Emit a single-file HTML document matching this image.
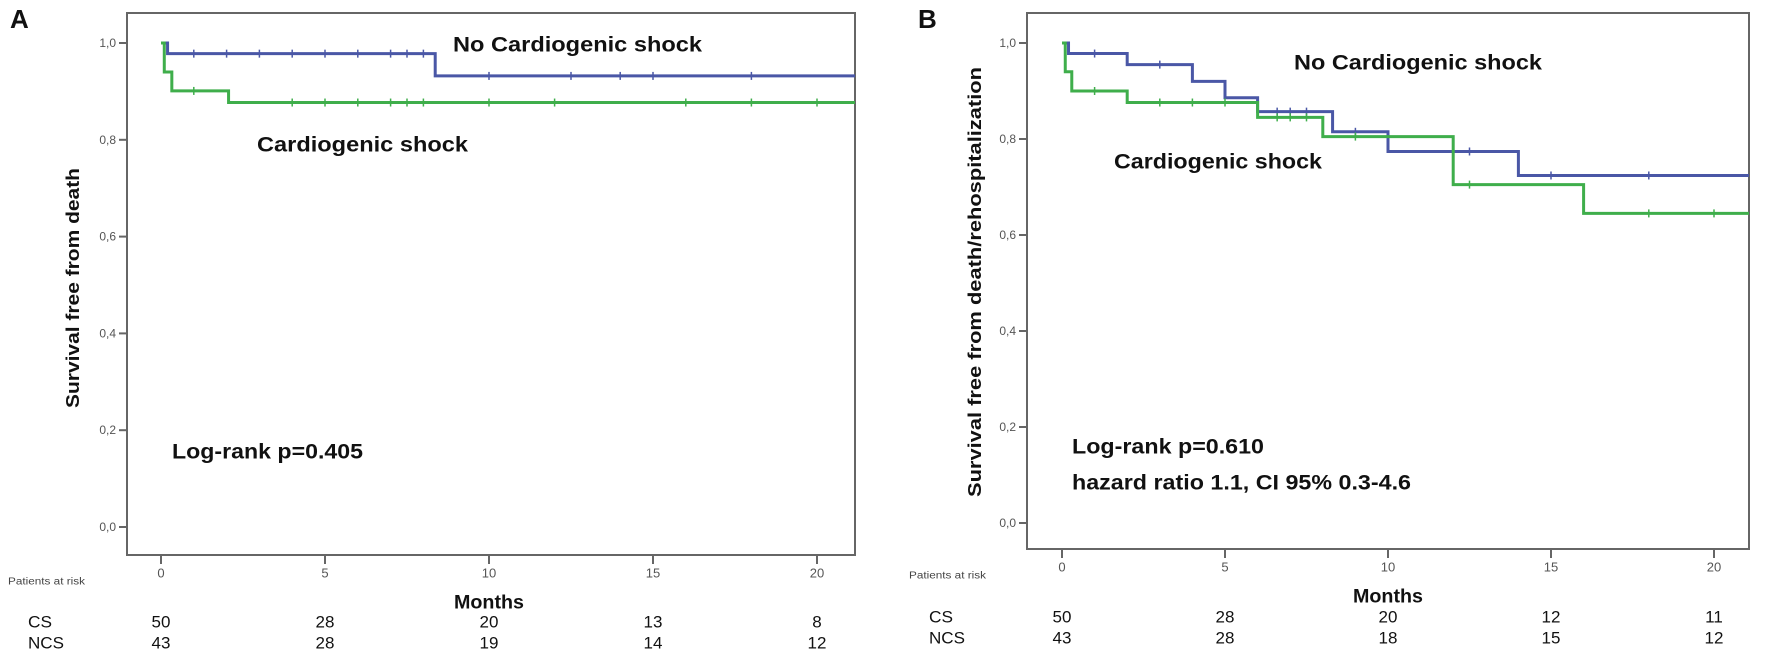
<!DOCTYPE html>
<html><head><meta charset="utf-8"><style>
body{margin:0;background:#fff;}
svg{display:block;font-family:"Liberation Sans",sans-serif;}
</style></head><body>
<svg id="fig" width="1772" height="660" viewBox="0 0 1772 660">
<g id="root"></g>
</svg>
<script>
// ---- data ----
const tickMonths = [0, 5, 10, 15, 20];
const yTicks = [0, 0.2, 0.4, 0.6, 0.8, 1.0];
const yTickLabels = ["0,0","0,2","0,4","0,6","0,8","1,0"];
// Panel A
const aNcsTimes = [0, 0.2, 8.36];
const aNcsSurv = [1.0, 0.978, 0.932];
const aNcsCensor = [1,2,3,4,5,6,7,7.5,8,10,12.5,14,15,18];
const aCsTimes = [0, 0.1, 0.33, 2.06];
const aCsSurv = [1.0, 0.94, 0.901, 0.877];
const aCsCensor = [1,4,5,6,7,7.5,8,10,12,16,18,20];
const aRiskCS = [50, 28, 20, 13, 8];
const aRiskNCS = [43, 28, 19, 14, 12];
// Panel B
const bNcsTimes = [0, 0.2, 2, 4, 5, 6, 8.3, 10, 14];
const bNcsSurv = [1.0, 0.978, 0.955, 0.92, 0.886, 0.857, 0.815, 0.774, 0.724];
const bNcsCensor = [1,3,6.6,7,7.5,9,12.5,15,18];
const bCsTimes = [0, 0.1, 0.3, 2, 6, 8, 12, 16];
const bCsSurv = [1.0, 0.94, 0.9, 0.876, 0.845, 0.805, 0.705, 0.645];
const bCsCensor = [1,3,4,5,6.6,7,7.5,9,12.5,18,20];
const bRiskCS = [50, 28, 20, 12, 11];
const bRiskNCS = [43, 28, 18, 15, 12];

const BLUE = "#4a57a6", GREEN = "#3fae4b";
const NS = "http://www.w3.org/2000/svg";
const root = document.getElementById("root");
function el(tag, attrs, parent, text){
  const e = document.createElementNS(NS, tag);
  for (const k in attrs) e.setAttribute(k, attrs[k]);
  if (text !== undefined) e.textContent = text;
  (parent || root).appendChild(e);
  return e;
}
function txt(parent, x, y, s, size, opts){
  opts = opts || {};
  const a = {x:x, y:y, "font-size":size, fill: opts.fill || "#111", "font-weight": opts.bold ? "bold" : "normal", "text-anchor": opts.anchor || "start", "dominant-baseline":"central"};
  if (opts.len) { a.textLength = opts.len; a.lengthAdjust = "spacingAndGlyphs"; }
  if (opts.transform) a.transform = opts.transform;
  return el("text", a, parent, s);
}

function panel(cfg){
  const g = el("g", {});
  
  
  const xs = m => cfg.x0 + m * cfg.pxm;
  const ys = v => cfg.y0 - v * (cfg.y0 - cfg.y1);
  // panel letter
  const lt = txt(g, cfg.letterX, 19, cfg.letter, 26, {bold:true});
  
  
  // frame
  const fr = el("rect", {x:cfg.left, y:13, width:cfg.right-cfg.left, height:cfg.bottom-13, fill:"none", stroke:"#666", "stroke-width":2}, g);
  
  
  // y ticks
  yTicks.forEach((v,i)=>{
    const y = ys(v);
    el("line", {x1:cfg.left-8, x2:cfg.left, y1:y, y2:y, stroke:"#666", "stroke-width":2}, g);
    const t = txt(g, cfg.left-11, y, yTickLabels[i], 12, {anchor:"end", fill:"#555"});
    
    
  });
  // x ticks
  tickMonths.forEach(m=>{
    const x = xs(m);
    el("line", {x1:x, x2:x, y1:cfg.bottom, y2:cfg.bottom+9, stroke:"#666", "stroke-width":2}, g);
    const t = txt(g, x, cfg.bottom+18, String(m), 13, {anchor:"middle", fill:"#555"});
    
    
  });
  // y title
  const yt = txt(g, cfg.ytX, cfg.ytY, cfg.ytitle, 18, {bold:true, anchor:"middle", len:cfg.ytLen, transform:`rotate(-90 ${cfg.ytX} ${cfg.ytY})`});
  
  
  // x title
  const xt = txt(g, xs(10), cfg.monthsY, "Months", 19, {bold:true, anchor:"middle", len:70});
  
  
  // curves
  function curve(times, surv, cens, color, nm){
    let d = `M${xs(times[0])},${ys(surv[0])}`;
    for (let i=1;i<times.length;i++){
      d += ` H${xs(times[i])} V${ys(surv[i])}`;
    }
    d += ` H${cfg.right}`;
    const p = el("path", {d:d, fill:"none", stroke:color, "stroke-width":3}, g);
    
    
    cens.forEach(c=>{
      let s = surv[0];
      for (let i=0;i<times.length;i++) if (times[i] <= c) s = surv[i];
      const x = xs(c), y = ys(s);
      const l = el("line", {x1:x, x2:x, y1:y-4, y2:y+4, stroke:color, "stroke-width":1.5}, g);
      
      
    });
  }
  curve(cfg.ncsT, cfg.ncsS, cfg.ncsC, BLUE, 'ncs');
  curve(cfg.csT, cfg.csS, cfg.csC, GREEN, 'cs');
  // annotations
  cfg.notes.forEach(n=>{
    const t = txt(g, n.x, n.y, n.s, 21, {bold:true, len:n.len});
    
    
  });
  // risk table
  const pr = txt(g, cfg.parX, cfg.parY, "Patients at risk", 10, {fill:"#444", len:77});
  
  
  const c1 = txt(g, cfg.rowX, cfg.csY, "CS", 17, {len:24});
  
  
  const c2 = txt(g, cfg.rowX, cfg.csY+21, "NCS", 17, {len:36});
  
  
  tickMonths.forEach((m,i)=>{
    const a = txt(g, xs(m), cfg.csY, String(cfg.riskCS[i]), 17, {anchor:"middle"});
    
    
    const b = txt(g, xs(m), cfg.csY+21, String(cfg.riskNCS[i]), 17, {anchor:"middle"});
    
    
  });
}

panel({name:'panel-a', letter:'A', letterX:10, left:127, right:855, bottom:555,
  x0:161, pxm:32.8, y0:527, y1:43, ytitle:'Survival free from death', ytX:73, ytY:288, ytLen:240,
  monthsY:603, ncsT:aNcsTimes, ncsS:aNcsSurv, ncsC:aNcsCensor, csT:aCsTimes, csS:aCsSurv, csC:aCsCensor,
  riskCS:aRiskCS, riskNCS:aRiskNCS, parX:8, parY:582, rowX:28, csY:622,
  notes:[{x:453,y:45,s:'No Cardiogenic shock',len:249,name:'label-no-cardiogenic-shock'},
         {x:257,y:145,s:'Cardiogenic shock',len:211,name:'label-cardiogenic-shock'},
         {x:172,y:452,s:'Log-rank p=0.405',len:191,name:'log-rank-annotation'}]});

panel({name:'panel-b', letter:'B', letterX:918, left:1027, right:1749, bottom:549,
  x0:1062, pxm:32.6, y0:523, y1:43, ytitle:'Survival free from death/rehospitalization', ytX:975, ytY:282, ytLen:430,
  monthsY:597, ncsT:bNcsTimes, ncsS:bNcsSurv, ncsC:bNcsCensor, csT:bCsTimes, csS:bCsSurv, csC:bCsCensor,
  riskCS:bRiskCS, riskNCS:bRiskNCS, parX:909, parY:576, rowX:929, csY:617,
  notes:[{x:1294,y:63,s:'No Cardiogenic shock',len:248,name:'label-no-cardiogenic-shock'},
         {x:1114,y:162,s:'Cardiogenic shock',len:208,name:'label-cardiogenic-shock'},
         {x:1072,y:447,s:'Log-rank p=0.610',len:192,name:'log-rank-annotation'},
         {x:1072,y:483,s:'hazard ratio 1.1, CI 95% 0.3-4.6',len:339,name:'hazard-ratio-annotation'}]});
</script>
</body></html>
